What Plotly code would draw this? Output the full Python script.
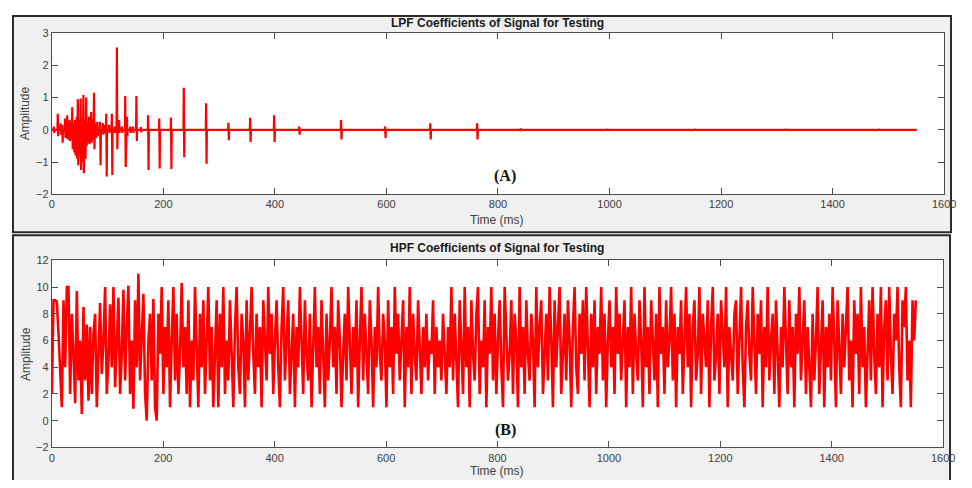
import numpy as np
import plotly.graph_objects as go

# ---------------- data ----------------
# LPF coefficients: spike events (time ms, peak, trough) on a ~0 baseline
spike_time = [4, 11, 16, 19, 24, 28, 32, 35, 37, 40, 42, 45, 47, 50, 52, 55, 57, 60, 62, 65, 67, 71, 74,
              76, 79, 82, 87, 92, 95, 98, 103, 108, 113, 117, 121, 126, 132, 135, 141, 146, 152, 160,
              173, 193, 214, 237, 277, 317, 356, 399, 444, 519, 598, 679, 763, 841, 997, 1154, 1316, 1484]
spike_high = [0.1, 0.5, 0.2, 0.15, 0.35, 0.45, 0.3, 0.25, 0.7, 0.2, 0.3, 0.4, 0.95, 0.3, 0.97, 0.35, 1.08, 0.3, 1.0, 0.2,
              0.4, 0.55, 0.3, 1.15, 0.2, 0.25, 0.25, 0.2, 0.15, 0.5, 0.15, 0.5, 0.1, 2.55, 0.3, 0.1, 1.05, 0.4, 0.1, 0.1,
              1.05, 0.08, 0.45, 0.35, 0.38, 1.3, 0.82, 0.22, 0.37, 0.45, 0.1, 0.3, 0.1, 0.2, 0.2, 0.04, 0.03, 0.03, 0.03, 0.03]
spike_low = [-0.1, -0.2, -0.15, -0.4, -0.25, -0.3, -0.35, -0.3, -0.6, -0.7, -0.8, -0.9, -1.1, -0.8, -1.25, -1.0, -1.35, -0.9, -0.5, -0.4,
             -0.45, -0.4, -0.3, -0.6, -0.25, -0.2, -1.1, -0.15, -0.1, -1.45, -0.1, -1.4, -0.1, -0.6, -0.1, -0.1, -1.15, -0.2, -0.1, -0.1,
             -0.35, -0.08, -1.25, -1.2, -1.22, -0.85, -1.05, -0.32, -0.38, -0.38, -0.15, -0.3, -0.25, -0.3, -0.3, -0.04, -0.03, -0.03, -0.03, -0.03]
lpf_end = 1551

# HPF coefficients: one value every ~3 ms from 0 to 1551 ms
hpf_values = [
    2, 9, 9, 8.9, 6.5, 3, 1, 9, 4, 10, 10, 2, 8, 5, 1.3, 9.7, 3, 6, 0.5, 8.5,
    3, 7.2, 1.5, 7, 2, 6.5, 8, 1, 5, 8.8, 3.5, 6, 10, 2, 4.5, 8.7, 4, 10, 2.5, 6,
    9.2, 2, 5, 9.8, 3, 7, 10.1, 2, 6, 0.9, 9, 4, 11, 3, 7, 9.5, 2, 0, 6, 8,
    3, 9.1, 1, 0, 8, 5, 10, 2, 7, 4, 9, 1, 6, 10, 3, 8, 2, 5, 10.3, 4,
    7, 2, 9, 1, 6, 3, 10, 5, 1, 8, 4, 9, 2, 6, 10, 3, 7, 1, 5, 9,
    1, 8, 4, 10, 2, 6, 3, 9, 5, 1, 7, 10, 4, 2, 8, 6, 1, 9, 3, 7,
    10, 5, 2, 8, 4, 7, 1, 9, 6, 3, 10, 5, 8, 2, 6, 9, 4, 1, 7, 10,
    3, 6, 9, 2, 5, 8, 1, 7, 4, 10, 6, 2, 9, 5, 3, 8, 1, 6, 10, 4,
    7, 2, 9, 5, 1, 8, 3, 6, 10, 4, 7, 2, 9, 6, 1, 5, 8, 3, 10, 6,
    2, 7, 4, 9, 1, 6, 10, 3, 8, 5, 2, 9, 6, 1, 7, 4, 10, 5, 3, 8,
    6, 1, 9, 4, 7, 2, 10, 5, 8, 3, 6, 9, 1, 7, 4, 10, 2, 8, 5, 3,
    9, 6, 2, 7, 4, 8, 3, 6, 5, 9, 2, 7, 4, 6, 3, 8, 5, 2, 7, 4,
    10, 3, 8, 5, 1, 9, 6, 2, 10, 4, 7, 1, 9, 5, 3, 8, 10, 2, 6, 4,
    9, 1, 7, 5, 10, 3, 8, 2, 6, 9, 4, 1, 10, 7, 3, 5, 9, 2, 8, 6,
    1, 10, 4, 7, 2, 9, 5, 3, 8, 6, 1, 10, 4, 7, 9, 2, 5, 8, 3, 10,
    6, 1, 9, 4, 7, 10, 2, 5, 8, 3, 9, 6, 1, 7, 10, 4, 2, 8, 5, 9,
    3, 10, 6, 1, 8, 4, 9, 2, 7, 5, 10, 3, 8, 1, 6, 9, 4, 7, 2, 10,
    5, 8, 3, 6, 9, 1, 7, 4, 10, 2, 8, 5, 3, 9, 6, 1, 10, 4, 7, 2,
    9, 6, 3, 8, 1, 10, 5, 7, 2, 9, 4, 6, 10, 3, 8, 1, 7, 5, 9, 2,
    6, 10, 4, 8, 1, 7, 9, 3, 5, 10, 2, 8, 6, 4, 9, 1, 7, 10, 3, 5,
    8, 2, 9, 6, 4, 10, 1, 7, 5, 3, 8, 9, 2, 6, 10, 4, 1, 7, 9, 5,
    3, 10, 6, 2, 8, 5, 9, 1, 7, 4, 10, 3, 6, 8, 2, 9, 5, 1, 7, 4,
    10, 6, 2, 9, 4, 7, 1, 8, 5, 10, 3, 6, 9, 2, 7, 4, 1, 8, 3, 6,
    10, 2, 5, 9, 1, 7, 4, 8, 3, 10, 6, 1, 9, 5, 2, 8, 4, 7, 10, 3,
    6, 1, 9, 5, 8, 2, 10, 4, 7, 1, 6, 9, 3, 10, 5, 2, 8, 4, 10, 1,
    7, 9, 3, 10, 5, 2, 8, 6, 10, 4, 1, 9, 7, 10, 3, 6, 1, 9, 6, 9,
]
hpf_end = 1551

x_ticks = [0, 200, 400, 600, 800, 1000, 1200, 1400, 1600]
lpf_yticks = [-2, -1, 0, 1, 2, 3]
hpf_yticks = [-2, 0, 2, 4, 6, 8, 10, 12]

titles = ["LPF Coefficients of Signal for Testing", "HPF Coefficients of Signal for Testing"]
panel_tags = ["(A)", "(B)"]

# ---------------- build series ----------------
lpf_t, lpf_v = [0.0], [0.0]
for t, hi, lo in zip(spike_time, spike_high, spike_low):
    lpf_t += [t - 1.0, t - 0.4, t + 0.4, t + 1.0]
    lpf_v += [0.0, hi, lo, 0.0]
lpf_t.append(lpf_end)
lpf_v.append(0.0)

hpf_t = np.linspace(0, hpf_end, len(hpf_values))

# figure sits inside the page body (8px default margin) so the page is exactly 972x488
OFF = 8
W, H = 956, 472
def px(x):
    return (x - OFF) / W
def py(y):
    return 1 - (y - OFF) / H

fig = go.Figure()
fig.add_trace(go.Scatter(x=lpf_t, y=lpf_v, mode="lines", line=dict(color="#ff0000", width=2.2),
                         xaxis="x", yaxis="y", showlegend=False, hoverinfo="skip"))
fig.add_trace(go.Scatter(x=hpf_t, y=hpf_values, mode="lines", line=dict(color="#ff0000", width=2.6),
                         xaxis="x2", yaxis="y2", showlegend=False, hoverinfo="skip"))

axis_common = dict(showline=True, mirror="ticks", linecolor="#4d4d4d", linewidth=1,
                   ticks="inside", ticklen=6, tickcolor="#4d4d4d", showgrid=False, zeroline=False,
                   ticklabeloverflow="allow",
                   tickfont=dict(family="Liberation Sans, Arial, sans-serif", size=11, color="#404040"))

fig.update_layout(
    width=W, height=H, autosize=False,
    margin=dict(l=0, r=0, t=0, b=0),
    paper_bgcolor="white", plot_bgcolor="white",
    xaxis=dict(domain=[px(49.5), px(956)], range=[0, 1600], tickvals=x_ticks, anchor="y", **axis_common),
    yaxis=dict(domain=[py(193), py(27.5)], range=[-2, 3], tickvals=lpf_yticks, anchor="x", **axis_common),
    xaxis2=dict(domain=[px(49.5), px(955)], range=[0, 1600], tickvals=x_ticks, anchor="y2", **axis_common),
    yaxis2=dict(domain=[py(452.7), py(260.7)], range=[-2, 12], tickvals=hpf_yticks, anchor="x2", **axis_common),
)

# panel backgrounds (figure windows) and white axes areas
shapes = [
    dict(type="rect", xref="paper", yref="paper", x0=px(10), x1=px(963), y0=py(232), y1=py(10),
         fillcolor="#f0f0f0", line=dict(color="#2b2b2b", width=2), layer="below"),
    dict(type="rect", xref="paper", yref="paper", x0=px(10), x1=px(962), y0=py(500), y1=py(235),
         fillcolor="#f0f0f0", line=dict(color="#2b2b2b", width=2), layer="below"),
    dict(type="rect", xref="x domain", yref="y domain", x0=0, x1=1, y0=0, y1=1,
         fillcolor="white", line=dict(width=0), layer="below"),
    dict(type="rect", xref="x2 domain", yref="y2 domain", x0=0, x1=1, y0=0, y1=1,
         fillcolor="white", line=dict(width=0), layer="below"),
]
fig.update_layout(shapes=shapes)

label_font = dict(family="Liberation Sans, Arial, sans-serif", size=12, color="#404040")
ann = []
for title, ty in zip(titles, [17, 248.5]):
    ann.append(dict(text="<b>" + title + "</b>", x=px(502), y=py(ty), xref="paper", yref="paper",
                    showarrow=False, xanchor="center", yanchor="middle",
                    font=dict(family="Liberation Sans, Arial, sans-serif", size=12, color="#1a1a1a")))
for ty in [219.5, 477]:
    ann.append(dict(text="Time (ms)", x=px(502), y=py(ty), xref="paper", yref="paper",
                    showarrow=False, xanchor="center", yanchor="middle", font=label_font))
for ty in [110, 357]:
    ann.append(dict(text="Amplitude", x=px(23), y=py(ty), xref="paper", yref="paper", textangle=-90,
                    showarrow=False, xanchor="center", yanchor="middle", font=label_font))
for tag, ty in zip(panel_tags, [174.5, 435]):
    ann.append(dict(text="<b>" + tag + "</b>", x=px(510), y=py(ty), xref="paper", yref="paper",
                    showarrow=False, xanchor="center", yanchor="middle",
                    font=dict(family="Liberation Serif, Times New Roman, serif", size=16, color="#111111")))
fig.update_layout(annotations=ann)

fig.write_html("out.html", config={"responsive": False, "displayModeBar": False})
